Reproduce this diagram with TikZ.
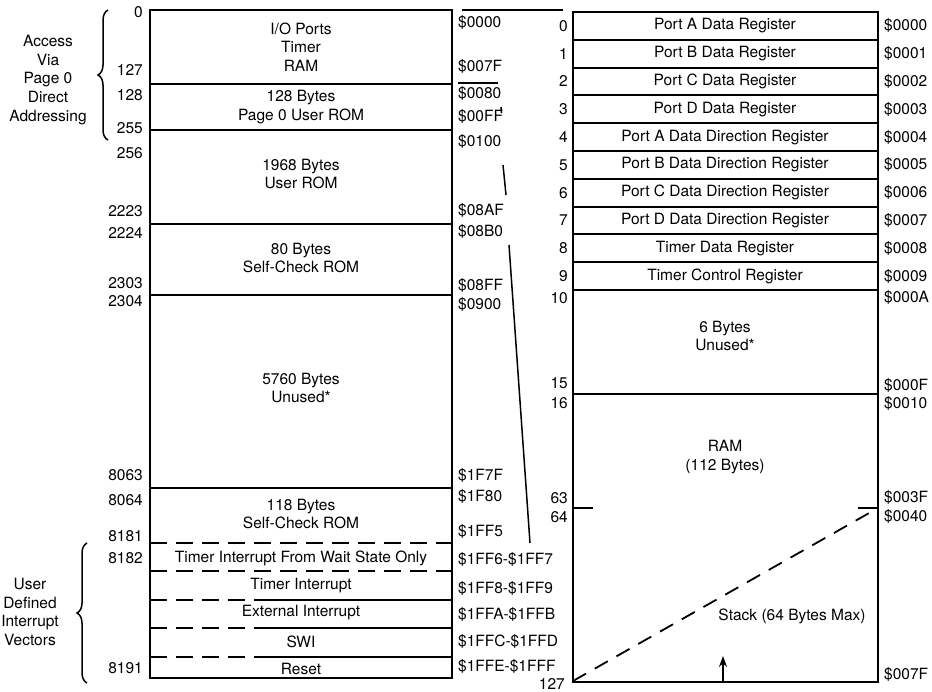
\documentclass[tikz,border=0pt]{standalone}
\usepackage{fontspec}
\setmainfont{TeX Gyre Heros}
\usetikzlibrary{arrows.meta,decorations.pathreplacing}

\begin{document}
\begin{tikzpicture}[x=1pt,y=-1pt,
	every node/.style={font=\fontsize{15.5}{18.7}\selectfont},
	wall/.style={line width=2pt},
	dsh/.style={line width=2pt,dash pattern=on 17pt off 9pt},
	mid/.style={align=center},
	num/.style={inner sep=0pt,anchor=east},
	hex/.style={inner sep=0pt,anchor=west},
	brc/.style={line width=1.5pt,decorate,decoration={brace,amplitude=10pt}}]

	\useasboundingbox (0,0) rectangle (932,692);

	% left map
	\draw[wall] (150,10) rectangle (452,678);
	\foreach \y in {84,130,224,295,488}
		\draw[wall] (150,\y) -- (452,\y);
	\foreach \y in {543,571}
		\draw[dsh] (150,\y) -- (452,\y);
	\foreach \y/\e in {600/270,628/268,657/262}{
		\draw[dsh] (150,\y) -- (\e,\y);
		\draw[wall] (\e,\y) -- (452,\y);
	}

	\node[mid] (io) at (301,47) {I/O Ports\\Timer\\RAM};
	\node[mid] (pzrom) at (301,107) {128 Bytes\\Page 0 User ROM};
	\node[mid] (urom) at (301,174) {1968 Bytes\\User ROM};
	\node[mid] (scrom) at (301,258) {80 Bytes\\Self-Check ROM};
	\node[mid] (unused) at (301,388) {5760 Bytes\\Unused*};
	\node[mid] (scromb) at (301,514) {118 Bytes\\Self-Check ROM};
	\node (twait) at (301,558) {Timer Interrupt From Wait State Only};
	\node (tint) at (301,586) {Timer Interrupt};
	\node (xint) at (301,613) {External Interrupt};
	\node (swi) at (301,642) {SWI};
	\node (rst) at (301,669) {Reset};

	\foreach \t/\y in {0/12,127/70,128/95,255/128,256/153,2223/211,2224/233,2303/283,2304/301,8063/475,8064/500,8181/536,8182/558,8191/668}
		\node[num] (ld\t) at (143,\y) {\t};
	\foreach \t/\y in {0000/23,007F/67,0080/94,00FF/117,0100/142,08AF/211,08B0/232,08FF/286,0900/305,1F7F/476,1F80/497,1FF5/532,1FF6-\$1FF7/560,1FF8-\$1FF9/589,1FFA-\$1FFB/615,1FFC-\$1FFD/642,1FFE-\$1FFF/667}
		\node[hex] (lh\y) at (458,\y) {\$\t};

	\draw[brc] (108,140) -- (108,10);
	\node[mid] (acc) at (48,80) {Access\\Via\\Page 0\\Direct\\Addressing};
	\draw[brc] (87,683) -- (87,543);
	\node[mid] (usr) at (30,612) {User\\Defined\\Interrupt\\Vectors};

	% page 0 detail
	\draw[wall] (573,12) rectangle (878,682);
	\foreach \i in {1,...,10}
		\draw[wall] (573,{12+27.8*\i}) -- (878,{12+27.8*\i});
	\draw[wall] (573,394) -- (878,394);
	\foreach \i/\name in {0/Port A Data Register,1/Port B Data Register,2/Port C Data Register,3/Port D Data Register,4/Port A Data Direction Register,5/Port B Data Direction Register,6/Port C Data Direction Register,7/Port D Data Direction Register,8/Timer Data Register,9/Timer Control Register}{
		\pgfmathsetmacro\yc{12+27.8*(\i+0.5)}
		\node (reg\i) at (725,\yc) {\name};
		\node[num] (rd\i) at (568,\yc) {\i};
		\node[hex] (rh\i) at (884,\yc) {\$000\i};
	}
	\node[mid] (unusedb) at (725,336) {6 Bytes\\Unused*};
	\node[mid] (ram) at (725,457) {RAM\\(112 Bytes)};
	\node (stack) at (792,616) {Stack (64 Bytes Max)};

	\foreach \t/\y in {10/298,15/383,16/403,63/498,64/517}
		\node[num] (rd\t) at (568,\y) {\t};
	\node[num] (rd127) at (565,684) {127};
	\foreach \t/\y in {000A/298,000F/386,0010/404,003F/498,0040/517,007F/675}
		\node[hex] (rh\y) at (884,\y) {\$\t};

	\draw[wall] (573,508) -- (593,508);
	\draw[wall] (858,508) -- (878,508);
	\coordinate (sbot) at (573,681);
	\coordinate (stop) at (878,508);
	\draw[line width=1.8pt,dash pattern=on 15pt off 10pt] (sbot) -- (stop);
	\coordinate (abase) at (723,682);
	\coordinate (atip) at (723,656);
	\draw[line width=1.6pt,-{Stealth[length=11pt,width=8pt]}] (abase) -- (atip);

	% links between the maps
	\coordinate (ta) at (462,10);
	\coordinate (tb) at (563,10);
	\draw[line width=1.5pt] (ta) -- (tb);
	\coordinate (oa) at (458,83);
	\coordinate (ob) at (498,83);
	\draw[line width=1.5pt] (oa) -- (ob);
	\coordinate (s1) at (501,107);
	\coordinate (s2) at (501.5,113);
	\coordinate (s3) at (503,165);
	\coordinate (s4) at (506,195);
	\coordinate (s5) at (509,245);
	\coordinate (s6) at (530,543);
	\draw[line width=1.5pt] (s1) -- (s2);
	\draw[line width=1.5pt] (s3) -- (s4);
	\draw[line width=1.5pt] (s5) -- (s6);
\end{tikzpicture}
\end{document}
